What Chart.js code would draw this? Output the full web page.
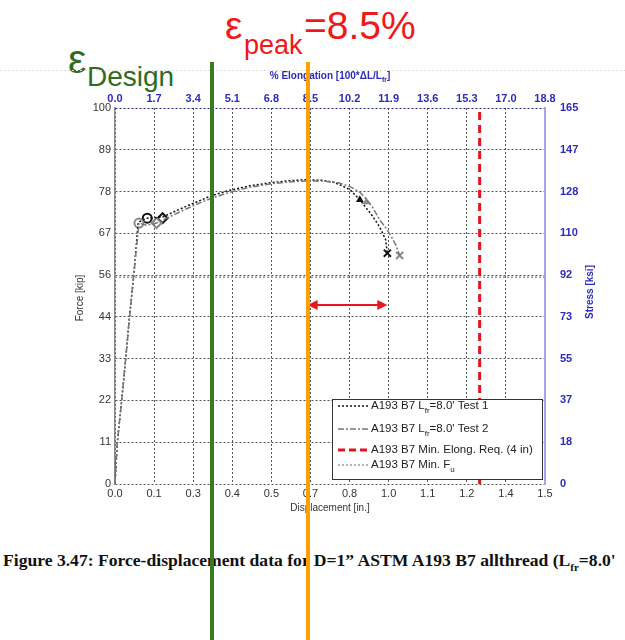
<!DOCTYPE html>
<html>
<head>
<meta charset="utf-8">
<script src="https://cdn.jsdelivr.net/npm/chart.js@4.4.1/dist/chart.umd.min.js"></script>
<style>
  body { margin: 0; background: #fff; }
  #wrap { position: relative; width: 625px; height: 640px; overflow: hidden; }
  #c { position: absolute; left: 0; top: 0; }
  .note { position: absolute; font-family: "Liberation Sans", Arial, sans-serif; line-height: 1; white-space: nowrap; }
  .green { color: #2f6b22; }
  .red { color: #f01818; }
  #caption { position: absolute; left: 3px; top: 552px; font-family: "Liberation Serif", "Times New Roman", serif;
             font-weight: bold; font-size: 17.6px; line-height: 1; white-space: nowrap; color: #111; }
  #caption sub { font-size: 11px; }
</style>
</head>
<body>
<div id="wrap">
  <div class="note green" style="left:68px; top:39px; font-size:41px;">ε</div>
  <div class="note green" style="left:87px; top:63px; font-size:28px;">Design</div>
  <div class="note red" style="left:225px; top:6px; font-size:39px;">ε</div>
  <div class="note red" style="left:244px; top:32px; font-size:27px;">peak</div>
  <div class="note red" style="left:304px; top:6px; font-size:39px;">=8.5%</div>
  <div id="caption">Figure 3.47: Force-displacement data for D=1” ASTM A193 B7 allthread (L<sub>fr</sub>=8.0'</div>
  <canvas id="c" width="625" height="640"></canvas>
</div>
<script>
// tick labels (MATLAB style, 11 / 9 equal intervals)
const dispTickLabels = ['0.0', '0.1', '0.3', '0.4', '0.5', '0.7', '0.8', '1.0', '1.1', '1.2', '1.4', '1.5'];
const elongTickLabels = ['0.0', '1.7', '3.4', '5.1', '6.8', '8.5', '10.2', '11.9', '13.6', '15.3', '17.0', '18.8'];
const forceTickLabels = ['0', '11', '22', '33', '44', '56', '67', '78', '89', '100'];
const stressTickLabels = ['0', '18', '37', '55', '73', '92', '110', '128', '147', '165'];

// Test 1 (black dotted)
const test1Disp = [0, 0.008, 0.023, 0.037, 0.050, 0.066, 0.081, 0.1125, 0.166, 0.20, 0.25, 0.30, 0.337, 0.40, 0.47,
                   0.54, 0.60, 0.66, 0.72, 0.76, 0.784, 0.819, 0.854, 0.895, 0.923, 0.944, 0.95];
const test1Force = [0, 11, 22, 33, 44, 56, 69.6, 70.7, 71.0, 72.2, 73.9, 75.5, 76.7, 78.1, 79.3,
                    80.1, 80.6, 80.9, 80.8, 80.3, 79.6, 78.3, 75.6, 71.6, 68.4, 65.0, 61.4];
// Test 2 (grey dash-dot)
const test2Disp = [0, 0.008, 0.023, 0.037, 0.050, 0.066, 0.0836, 0.11, 0.145, 0.20, 0.25, 0.30, 0.337, 0.40, 0.47,
                   0.54, 0.60, 0.66, 0.72, 0.78, 0.82, 0.854, 0.877, 0.90, 0.923, 0.945, 0.964, 0.98, 0.993];
const test2Force = [0, 11, 22, 33, 44, 56, 69.4, 68.8, 69.4, 71.4, 73.2, 74.9, 76.0, 77.6, 78.9,
                    79.8, 80.3, 80.6, 80.6, 80.1, 79.1, 77.6, 75.8, 73.4, 70.3, 68.1, 65.8, 63.5, 60.8];

// markers: yield (circle), yield (diamond), onset, fracture (x)
const markerStyles = ['circle', 'rectRot', 'triangle', 'crossRot'];
const test1MarkerDisp = [0.1125, 0.166, 0.854, 0.95];
const test1MarkerForce = [70.7, 70.7, 75.6, 61.4];
const test2MarkerDisp = [0.0836, 0.145, 0.877, 0.993];
const test2MarkerForce = [69.4, 69.4, 75.0, 60.8];

// requirements
const minElongDisp = 1.272;
const minFuForce = 55;

// annotations
const designDisp = 0.337;
const peakDisp = 0.672;
const arrowDisp = [0.672, 0.95];
const arrowForce = 47.6;

const legendLabels = [
    ['A193 B7 L', 'fr', "=8.0' Test 1"],
    ['A193 B7 L', 'fr', "=8.0' Test 2"],
    ['A193 B7 Min. Elong. Req. (4 in)', '', ''],
    ['A193 B7 Min. F', 'u', '']
];

function toPoints(xs, ys) {
    return xs.map((v, i) => ({ x: v, y: ys[i] }));
}

function evenTicks(labels) {
    return function(scale) {
        const n = labels.length;
        scale.ticks = labels.map((_, i) => ({ value: scale.min + i * (scale.max - scale.min) / (n - 1) }));
    };
}

const darkFont = { family: '"Liberation Sans", Arial, sans-serif', size: 11 };
const blueFont = { family: '"Liberation Sans", Arial, sans-serif', size: 11, weight: 'bold' };
const BLUE = '#2c2cb8';

// draws text with an optional subscript part
function richText(ctx, parts, x, y, size, align, weight) {
    const w = weight ? weight + ' ' : '';
    const big = w + size + 'px "Liberation Sans", Arial, sans-serif';
    const small = w + Math.round(size * 0.7) + 'px "Liberation Sans", Arial, sans-serif';
    ctx.font = big; const w0 = ctx.measureText(parts[0]).width; const w2 = ctx.measureText(parts[2]).width;
    ctx.font = small; const w1 = ctx.measureText(parts[1]).width;
    let sx = align === 'center' ? x - (w0 + w1 + w2) / 2 : x;
    ctx.textAlign = 'left';
    ctx.textBaseline = 'middle';
    ctx.font = big; ctx.fillText(parts[0], sx, y);
    ctx.font = small; ctx.fillText(parts[1], sx + w0, y + size * 0.45);
    ctx.font = big; ctx.fillText(parts[2], sx + w0 + w1, y);
}

const overlay = {
    id: 'overlay',
    afterDraw(chart) {
        const { ctx, chartArea: a } = chart;
        const x = chart.scales.x, y = chart.scales.y;
        ctx.save();

        // faint cropped line at the top of the figure
        ctx.strokeStyle = '#dcdcdc'; ctx.lineWidth = 1; ctx.setLineDash([2, 2]);
        ctx.beginPath(); ctx.moveTo(0, 70.5); ctx.lineTo(625, 70.5); ctx.stroke();
        ctx.setLineDash([]);

        // axis titles
        ctx.fillStyle = BLUE;
        richText(ctx, ['% Elongation [100*ΔL/L', 'fr', ']'], (a.left + a.right) / 2, 76, 10, 'center', 'bold');
        ctx.fillStyle = '#333';
        ctx.font = '10px "Liberation Sans", Arial, sans-serif';
        ctx.textAlign = 'center'; ctx.textBaseline = 'middle';
        ctx.fillText('Displacement [in.]', (a.left + a.right) / 2, 508);
        ctx.save(); ctx.translate(80, 298); ctx.rotate(-Math.PI / 2);
        ctx.fillText('Force [kip]', 0, 0); ctx.restore();
        ctx.save(); ctx.translate(590, 292); ctx.rotate(-Math.PI / 2);
        ctx.fillStyle = BLUE; ctx.font = 'bold 10px "Liberation Sans", Arial, sans-serif';
        ctx.fillText('Stress [ksi]', 0, 0); ctx.restore();

        // legend
        const lx = 332, ly = 399, lw = 210, lh = 80;
        ctx.fillStyle = '#fff'; ctx.fillRect(lx, ly, lw, lh);
        ctx.strokeStyle = '#333'; ctx.lineWidth = 1; ctx.strokeRect(lx + 0.5, ly + 0.5, lw, lh);
        const rows = [406, 429, 450, 465];
        const sampleStyles = [
            { c: '#111', d: [2, 2], w: 1.5 },
            { c: '#777', d: [6, 2, 2, 2], w: 1.5 },
            { c: '#e0151e', d: [7, 4], w: 3 },
            { c: '#999', d: [2, 2], w: 1.5 }
        ];
        rows.forEach((ry, i) => {
            const s = sampleStyles[i];
            ctx.strokeStyle = s.c; ctx.lineWidth = s.w; ctx.setLineDash(s.d);
            ctx.beginPath(); ctx.moveTo(338, ry); ctx.lineTo(369, ry); ctx.stroke();
            ctx.setLineDash([]);
            ctx.fillStyle = '#222';
            richText(ctx, legendLabels[i], 371, ry, 11.5, 'left');
        });

        // red double arrow
        const ax1 = x.getPixelForValue(arrowDisp[0]), ax2 = x.getPixelForValue(arrowDisp[1]);
        const ay = y.getPixelForValue(arrowForce);
        ctx.strokeStyle = '#e8141e'; ctx.fillStyle = '#e8141e'; ctx.lineWidth = 2;
        ctx.beginPath(); ctx.moveTo(ax1 + 6, ay); ctx.lineTo(ax2 - 6, ay); ctx.stroke();
        ctx.beginPath(); ctx.moveTo(ax1, ay); ctx.lineTo(ax1 + 10, ay - 5); ctx.lineTo(ax1 + 10, ay + 5); ctx.fill();
        ctx.beginPath(); ctx.moveTo(ax2, ay); ctx.lineTo(ax2 - 10, ay - 5); ctx.lineTo(ax2 - 10, ay + 5); ctx.fill();

        // design and peak strain lines
        [[designDisp, '#3b7a1f'], [peakDisp, '#ffa000']].forEach(([d, c]) => {
            const px = Math.round(x.getPixelForValue(d));
            ctx.fillStyle = c;
            ctx.fillRect(px - 2, 62, 4, 640 - 62);
        });
        ctx.restore();
    }
};

const ctx = document.getElementById('c').getContext('2d');
new Chart(ctx, {
    type: 'scatter',
    data: {
        datasets: [
            {
                label: 'A193 B7 Min. Fu',
                data: [{ x: 0, y: minFuForce }, { x: 1.5, y: minFuForce }],
                showLine: true, borderColor: '#999', borderWidth: 1.5, borderDash: [2, 2], pointRadius: 0
            },
            {
                label: 'A193 B7 Min. Elong. Req. (4 in)',
                data: [{ x: minElongDisp, y: 0 }, { x: minElongDisp, y: 100 }],
                showLine: true, borderColor: '#e0151e', borderWidth: 3, borderDash: [8, 5], pointRadius: 0
            },
            {
                label: 'Test 2',
                data: toPoints(test2Disp, test2Force),
                showLine: true, borderColor: '#777', borderWidth: 1.5, borderDash: [6, 2, 2, 2], pointRadius: 0, tension: 0
            },
            {
                label: 'Test 1',
                data: toPoints(test1Disp, test1Force),
                showLine: true, borderColor: '#111', borderWidth: 1.5, borderDash: [2, 2], pointRadius: 0, tension: 0
            },
            {
                label: 'Test 2 markers',
                data: toPoints(test2MarkerDisp, test2MarkerForce),
                pointStyle: markerStyles, pointRadius: [4.5, 5, 2.5, 5], borderColor: '#888', backgroundColor: 'rgba(0,0,0,0)', borderWidth: 2
            },
            {
                label: 'Test 1 markers',
                data: toPoints(test1MarkerDisp, test1MarkerForce),
                pointStyle: markerStyles, pointRadius: [4.5, 5, 2.5, 5], borderColor: '#111', backgroundColor: 'rgba(0,0,0,0)', borderWidth: 2
            }
        ]
    },
    options: {
        responsive: false,
        animation: false,
        layout: { padding: { left: 90, right: 30, top: 84, bottom: 136 } },
        plugins: { legend: { display: false }, tooltip: { enabled: false } },
        scales: {
            x: {
                type: 'linear', position: 'bottom', min: 0, max: 1.5,
                afterBuildTicks: evenTicks(dispTickLabels),
                afterFit: s => { s.height = 20; },
                ticks: { callback: (v, i) => dispTickLabels[i], autoSkip: false, maxRotation: 0, minRotation: 0, padding: 3, color: '#333', font: darkFont },
                grid: { color: '#555', lineWidth: 1, drawTicks: false },
                border: { display: false, dash: [2, 2] }
            },
            x2: {
                type: 'linear', position: 'top', min: 0, max: 1.5,
                afterBuildTicks: evenTicks(elongTickLabels),
                afterFit: s => { s.height = 24; },
                ticks: { callback: (v, i) => elongTickLabels[i], autoSkip: false, maxRotation: 0, minRotation: 0, padding: 2, color: BLUE, font: blueFont },
                grid: { display: false, drawTicks: false },
                border: { display: false }
            },
            y: {
                type: 'linear', position: 'left', min: 0, max: 100,
                afterBuildTicks: evenTicks(forceTickLabels),
                afterFit: s => { s.width = 25; },
                ticks: { callback: (v, i) => forceTickLabels[i], autoSkip: false, padding: 4, color: '#333', font: darkFont },
                grid: { color: c => (c.index === forceTickLabels.length - 1 ? '#22228a' : '#555'), lineWidth: 1, drawTicks: false },
                border: { display: true, color: '#888', width: 1.5, dash: [2, 2] }
            },
            y2: {
                type: 'linear', position: 'right', min: 0, max: 100,
                afterBuildTicks: evenTicks(stressTickLabels),
                afterFit: s => { s.width = 50; },
                ticks: { callback: (v, i) => stressTickLabels[i], autoSkip: false, padding: 15, color: BLUE, font: blueFont },
                grid: { display: false, drawTicks: false },
                border: { display: true, color: '#a4a4ee', width: 2 }
            }
        }
    },
    plugins: [overlay]
});
</script>
</body>
</html>
